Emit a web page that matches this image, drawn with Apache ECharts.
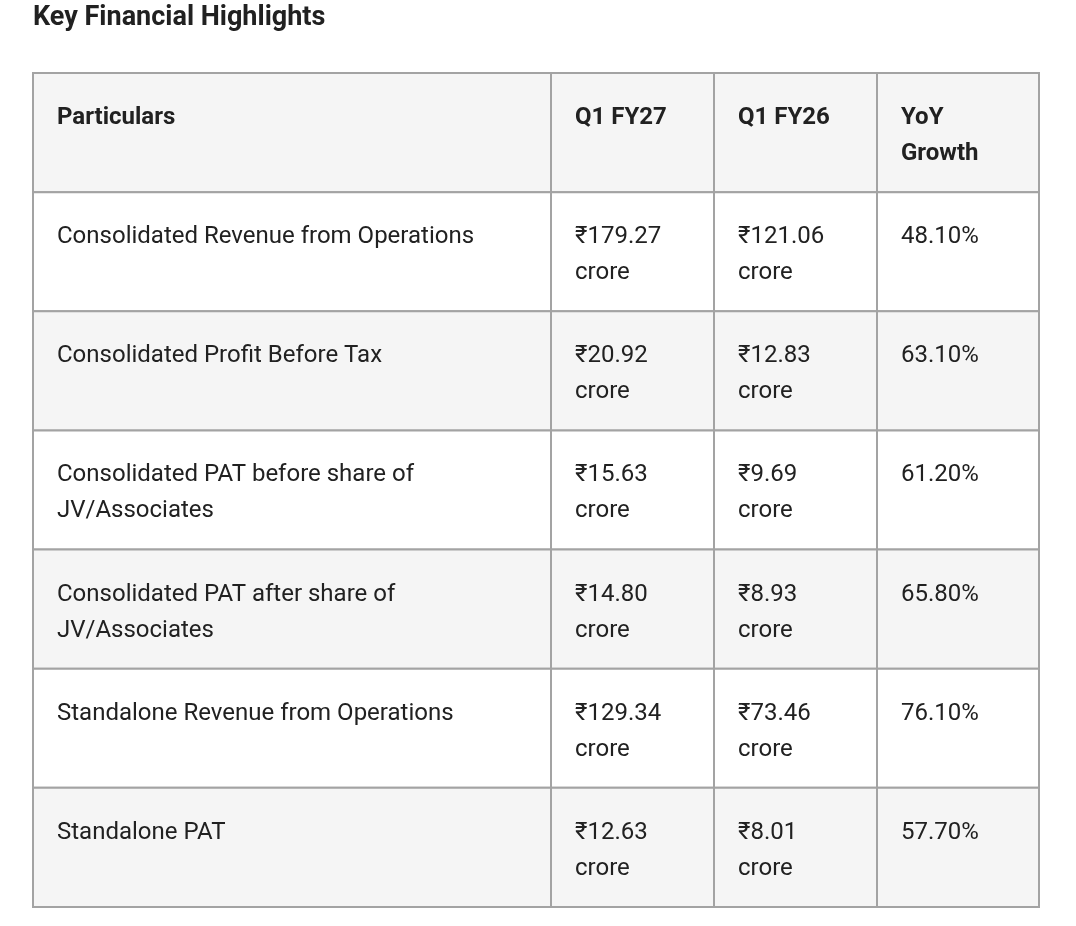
<!DOCTYPE html>
<html>
<head>
<meta charset="utf-8">
<script src="https://cdn.jsdelivr.net/npm/echarts@6/dist/echarts.min.js"></script>
<style>
  html, body { margin: 0; padding: 0; background: #fff; }
  #main { width: 1076px; height: 926px; }
</style>
</head>
<body>
<div id="main"></div>
<script>
// table content
var columns = ['Particulars', 'Q1 FY27', 'Q1 FY26', 'YoY Growth'];
var particulars = [
    'Consolidated Revenue from Operations',
    'Consolidated Profit Before Tax',
    'Consolidated PAT before share of JV/Associates',
    'Consolidated PAT after share of JV/Associates',
    'Standalone Revenue from Operations',
    'Standalone PAT'
];
var q1fy27 = [179.27, 20.92, 15.63, 14.80, 129.34, 12.63];   // ₹ crore
var q1fy26 = [121.06, 12.83, 9.69, 8.93, 73.46, 8.01];       // ₹ crore
var yoyGrowth = [48.10, 63.10, 61.20, 65.80, 76.10, 57.70];  // %

// layout: column edges on the x axis (same units as grid width)
var colEdges = [0, 518, 681, 844, 1006];

var rowKeys = ['header'].concat(particulars);
var cells = [];
columns.forEach(function (c, ci) {
    cells.push({value: [ci, 0], text: c, head: true});
});
particulars.forEach(function (p, ri) {
    var r = ri + 1;
    cells.push({value: [0, r], text: p});
    cells.push({value: [1, r], text: '₹' + q1fy27[ri].toFixed(2) + ' crore'});
    cells.push({value: [2, r], text: '₹' + q1fy26[ri].toFixed(2) + ' crore'});
    cells.push({value: [3, r], text: yoyGrowth[ri].toFixed(2) + '%'});
});

// wrap on spaces only, like the browser table did
var ctx = document.createElement('canvas').getContext('2d');
function wrap(text, font, maxW) {
    ctx.font = font;
    var words = text.split(' ');
    var lines = [], cur = '';
    words.forEach(function (wd) {
        var t = cur ? cur + ' ' + wd : wd;
        if (cur && ctx.measureText(t).width > maxW) {
            lines.push(cur);
            cur = wd;
        } else {
            cur = t;
        }
    });
    lines.push(cur);
    return lines.join('\n');
}

function renderCell(params, api) {
    var ci = api.value(0);
    var ri = api.value(1);
    var item = cells[params.dataIndex];
    var p0 = api.coord([colEdges[ci], ri]);
    var p1 = api.coord([colEdges[ci + 1], ri]);
    var h = api.size([0, 1])[1];
    var x = p0[0], y = p0[1] - h / 2, w = p1[0] - p0[0];
    var grey = (ri % 2 === 0);
    var weight = item.head ? 'bold' : 'normal';
    return {
        type: 'group',
        children: [
            {
                type: 'rect',
                shape: {x: x, y: y, width: w, height: h},
                style: {fill: grey ? '#f5f5f5' : '#ffffff', stroke: '#a3a3a3', lineWidth: 2}
            },
            {
                type: 'text',
                style: {
                    text: wrap(item.text, weight + ' 24px Roboto', w - 48),
                    x: x + 24,
                    y: y + 27,
                    lineHeight: 36,
                    fontSize: 24,
                    fontFamily: 'Roboto',
                    fontWeight: weight,
                    fill: '#212121',
                    align: 'left',
                    verticalAlign: 'top'
                }
            }
        ]
    };
}

var myChart = echarts.init(document.getElementById('main'));
var option = {
    animation: false,
    title: {
        text: 'Key Financial Highlights',
        left: 28,
        top: 0,
        textStyle: {fontFamily: 'Roboto', fontSize: 27, fontWeight: 'bold', color: '#212121'}
    },
    grid: {left: 33, right: 37, top: 73, bottom: 19},
    xAxis: {type: 'value', min: 0, max: 1006, show: false},
    yAxis: {type: 'category', data: rowKeys, inverse: true, show: false},
    series: [{
        type: 'custom',
        renderItem: renderCell,
        data: cells,
        silent: true
    }]
};
myChart.setOption(option);
</script>
</body>
</html>
